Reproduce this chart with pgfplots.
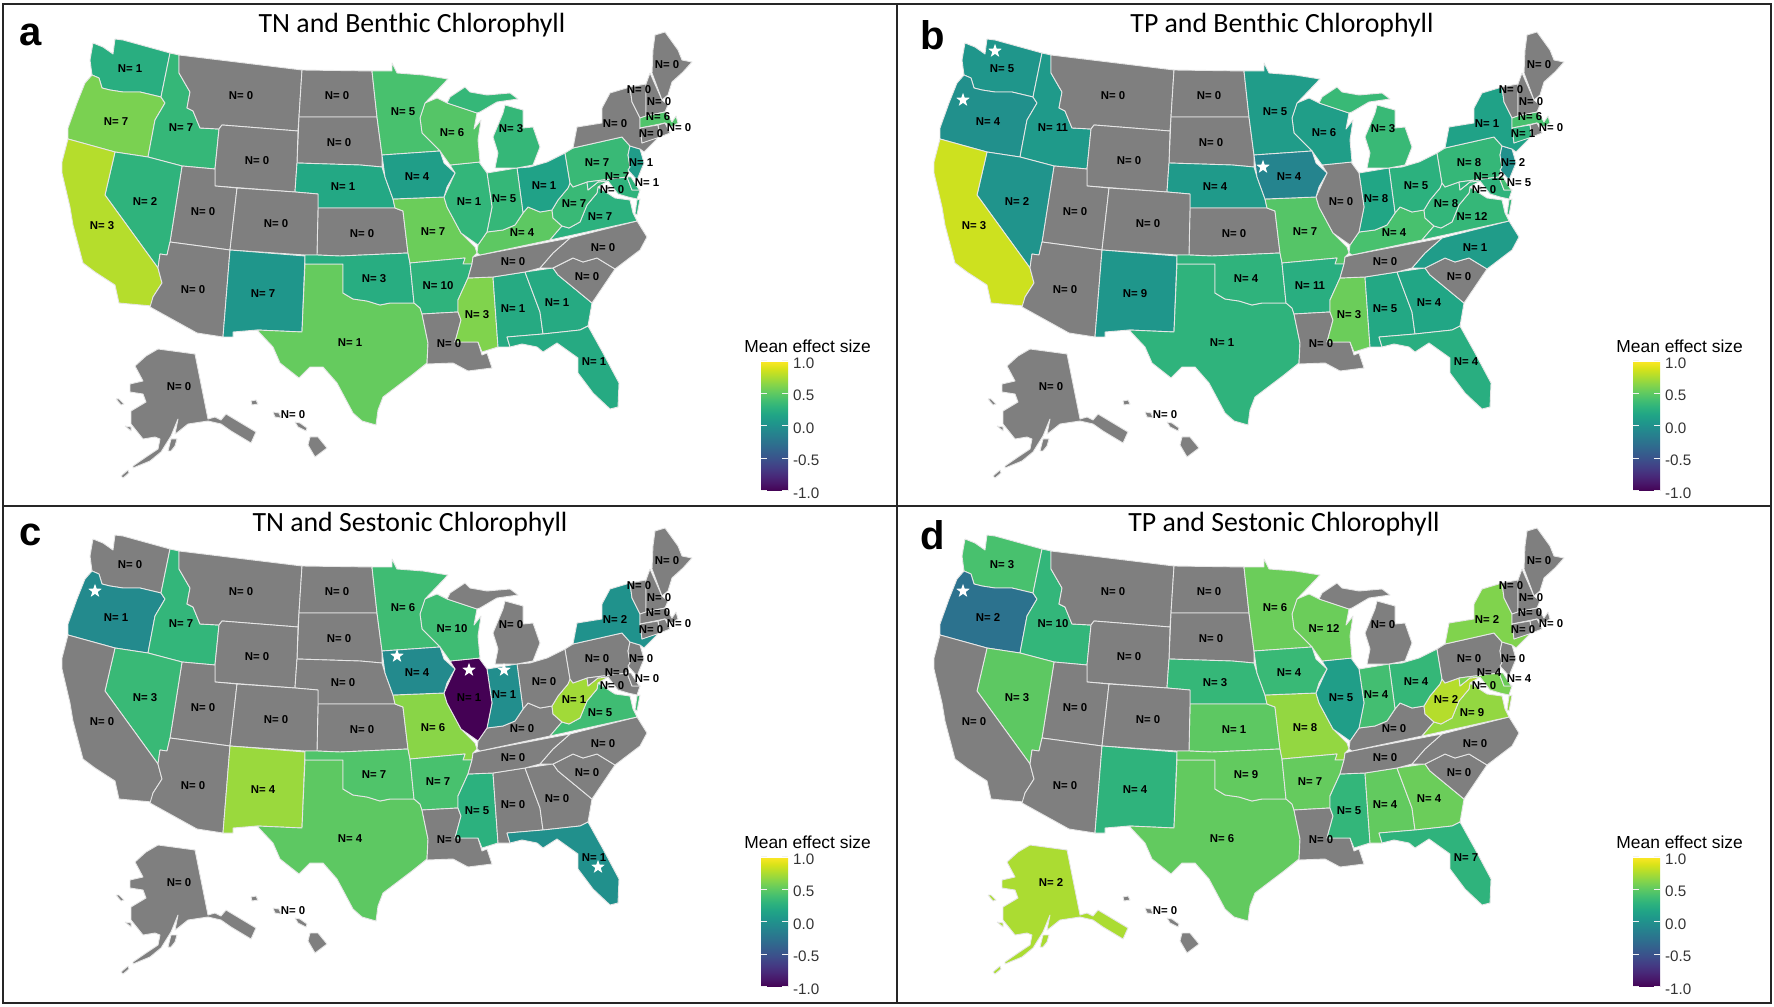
\documentclass[border=0pt]{standalone}
\usepackage{fontspec}
\setmainfont{Liberation Sans}
\newfontfamily\titlefont{Carlito}
\usepackage{pgfplots}
\pgfplotsset{compat=1.18}
\definecolor{bd}{HTML}{E6E6E6}
\definecolor{na}{HTML}{7F7F7F}

% state outlines, in reference pixels of panel a
\def\shpWA{(93,43)(103,47)(113,54)(115,39)(123,40)(170,53)(161,97)(140,92)(123,92)(110,90)(102,88)(99,78)(92,75)(90,60)}
\def\shpOR{(92,75)(99,78)(102,88)(110,90)(123,92)(140,92)(161,97)(165,103)(155,120)(148,157)(115,152)(68,139)(68,128)(77,103)(85,83)}
\def\shpID{(170,53)(179,55)(179,73)(190,92)(187,108)(193,111)(200,128)(219,129)(215,169)(182,166)(148,157)(155,120)(165,103)(161,97)}
\def\shpMT{(179,55)(302,70)(299,117)(298,131)(222,125)(219,129)(200,128)(193,111)(187,108)(190,92)(179,73)}
\def\shpND{(302,70)(372,71)(377,117)(299,117)}
\def\shpSD{(299,117)(377,117)(382,155)(382,167)(360,165)(297,163)}
\def\shpWY{(222,125)(298,131)(297,163)(295,192)(215,186)(215,169)(219,129)}
\def\shpNE{(297,163)(360,165)(382,167)(385,177)(393,199)(395,208)(318,208)(318,194)(295,192)}
\def\shpKS{(318,208)(395,208)(403,211)(408,253)(340,256)(317,255)}
\def\shpUT{(182,166)(215,169)(215,186)(237,188)(230,250)(170,242)}
\def\shpNV{(115,152)(148,157)(182,166)(170,242)(167,255)(160,254)(158,268)(105,195)}
\def\shpCA{(68,139)(115,152)(105,195)(158,268)(162,283)(153,297)(152,306)(119,303)(115,285)(95,272)(83,263)(73,225)(70,207)(62,173)(62,162)}
\def\shpAZ{(170,242)(230,250)(223,337)(197,333)(150,307)(153,297)(162,283)(158,268)(160,254)(167,255)}
\def\shpCO{(237,188)(295,192)(318,194)(318,208)(317,255)(305,255)(230,250)}
\def\shpNM{(230,250)(305,256)(302,332)(257,330)(233,332)(233,337)(223,337)}
\def\shpTX{(305,264)(343,264)(343,293)(353,299)(367,301)(380,305)(390,303)(403,303)(414,303)(420,308)(422,314)(428,343)(427,363)(412,375)(383,397)(378,410)(376,425)(362,421)(353,413)(337,383)(323,367)(310,367)(299,378)(280,363)(273,347)(257,330)(302,332)}
\def\shpOK{(305,255)(317,255)(340,256)(408,253)(410,263)(414,303)(403,303)(390,303)(380,305)(367,301)(353,299)(343,293)(343,264)(305,264)}
\def\shpMO{(393,199)(444,197)(447,207)(461,233)(468,240)(475,247)(477,253)(473,257)(472,264)(463,264)(465,258)(410,263)(408,253)(403,211)(395,208)}
\def\shpAR{(410,263)(465,258)(463,264)(472,264)(468,278)(458,300)(458,312)(422,314)(420,308)(414,303)}
\def\shpLA{(422,314)(458,312)(461,320)(455,342)(478,342)(482,355)(487,353)(492,368)(468,371)(453,363)(427,364)(428,343)}
\def\shpMS{(468,278)(493,277)(498,347)(482,352)(478,342)(455,342)(461,320)(458,312)(458,300)}
\def\shpAL{(493,277)(525,272)(540,312)(543,334)(507,337)(510,347)(503,347)(498,347)}
\def\shpGA{(525,272)(553,268)(558,275)(592,303)(588,326)(580,330)(543,334)(540,312)}
\def\shpFL{(507,337)(543,334)(580,330)(588,326)(603,353)(619,383)(618,407)(610,409)(593,393)(578,373)(578,358)(557,343)(543,352)(537,347)(522,344)(510,347)}
\def\shpSC{(553,268)(573,258)(583,262)(597,258)(615,269)(592,303)(558,275)}
\def\shpNC{(570,238)(637,221)(647,237)(640,250)(615,269)(597,258)(583,262)(573,258)(553,268)(540,268)(553,253)}
\def\shpTN{(472,264)(473,257)(480,255)(570,238)(553,253)(540,268)(525,272)(493,277)(468,278)}
\def\shpKY{(477,253)(478,245)(487,232)(503,230)(515,225)(523,213)(528,207)(540,212)(552,210)(553,218)(562,226)(550,240)(480,255)}
\def\shpVA{(550,240)(562,226)(569,228)(580,222)(587,205)(597,193)(598,187)(615,198)(630,200)(633,213)(637,221)}
\def\shpVAx{(637,200)(640,199)(637,215)(635,214)}
\def\shpWV{(553,218)(552,210)(558,200)(568,188)(570,183)(573,187)(587,182)(588,190)(598,182)(608,181)(598,187)(597,193)(587,205)(580,222)(569,228)(562,226)}
\def\shpOH{(517,168)(530,167)(547,162)(565,153)(570,183)(568,188)(558,200)(552,210)(540,212)(528,207)(523,213)}
\def\shpIN{(487,173)(517,168)(523,213)(515,225)(503,230)(487,232)(492,207)}
\def\shpIL{(450,165)(479,162)(487,173)(492,207)(487,232)(478,245)(461,233)(447,207)(444,197)(455,173)}
\def\shpWI{(425,103)(437,98)(447,103)(477,113)(474,129)(481,120)(478,140)(480,162)(450,165)(440,151)(422,133)(420,118)}
\def\shpMN{(372,71)(392,71)(392,63)(397,73)(423,75)(448,79)(425,103)(420,118)(422,133)(440,151)(382,155)(377,117)}
\def\shpIA{(382,155)(440,151)(444,163)(455,173)(447,187)(444,197)(393,199)(385,177)}
\def\shpMI{(495,168)(498,153)(493,137)(503,113)(505,105)(523,110)(523,128)(533,127)(540,147)(533,165)(517,168)}
\def\shpMIx{(447,103)(450,97)(465,87)(470,92)(487,95)(510,93)(518,99)(497,102)(480,112)(477,113)}
\def\shpPA{(573,148)(622,137)(630,146)(628,155)(630,167)(627,177)(587,182)(573,187)(570,183)(565,153)}
\def\shpNJ{(630,146)(640,149)(644,163)(637,180)(628,170)(630,167)(628,155)}
\def\shpNY{(573,148)(577,127)(602,123)(602,108)(610,93)(630,87)(632,102)(640,118)(640,128)(642,143)(655,136)(657,139)(644,152)(640,149)(630,146)(622,137)}
\def\shpVT{(630,87)(646,84)(646,116)(640,118)(632,102)}
\def\shpNH{(646,84)(650,73)(662,100)(668,105)(665,112)(646,116)}
\def\shpME{(652,73)(653,50)(655,35)(665,32)(678,50)(682,60)(692,62)(683,72)(672,82)(668,95)(662,100)}
\def\shpMA{(640,118)(646,116)(665,112)(668,115)(672,122)(676,116)(678,123)(672,127)(665,123)(640,128)}
\def\shpCT{(640,128)(658,125)(660,137)(642,143)}
\def\shpRI{(658,125)(665,123)(670,133)(660,137)}
\def\shpMD{(587,182)(627,177)(632,190)(640,190)(637,199)(628,197)(618,194)(608,181)(598,182)(588,190)}
\def\shpDE{(627,177)(631,177)(638,188)(640,190)(632,190)}
\def\shpDC{(606,186)(609,186)(609,189)(606,189)}
\def\shpAK{(158,349)(195,354)(208,419)(215,417)(221,420)(226,414)(256,432)(251,443)(231,431)(221,424)(208,421)(188,424)(178,432)(175,434)(178,419)(171,436)(161,452)(150,461)(133,468)(133,466)(146,457)(158,449)(160,439)(155,437)(143,439)(131,424)(131,411)(146,402)(143,394)(130,392)(130,384)(143,381)(135,366)(146,356)}
\def\shpAKx{(168,451)(171,439)(177,439)(175,446)(171,451)}
\def\shpAKy{(116,399)(119,399)(124,404)(121,405)}
\def\shpAKz{(125,426)(131,427)(131,431)}
\def\shpAKu{(121,476)(128,470)(129,473)(123,478)}
\def\shpHI{(310,437)(318,437)(327,448)(315,457)(308,445)}
\def\shpHIx{(295,422)(300,423)(307,428)(306,431)(298,427)}
\def\shpHIy{(273,412)(279,413)(281,418)(275,417)}
\def\shpHIz{(251,401)(256,400)(258,404)(252,405)}

% label positions
\def\lblWA{130,69}\def\lblOR{116,122}\def\lblID{181,128}\def\lblMT{241,96}\def\lblND{337,96}
\def\lblSD{339,143}\def\lblWY{257,161}\def\lblNE{343,187}\def\lblNV{145,202}\def\lblCA{102,226}
\def\lblUT{203,212}\def\lblCO{276,224}\def\lblKS{362,234}\def\lblAZ{193,290}\def\lblNM{263,294}
\def\lblOK{374,279}\def\lblTX{350,343}\def\lblAR{438,286}\def\lblLA{449,344}\def\lblMS{477,315}
\def\lblAL{513,309}\def\lblGA{557,303}\def\lblSC{587,277}\def\lblFL{594,362}\def\lblNC{603,248}
\def\lblTN{513,262}\def\lblKY{522,233}\def\lblMO{433,232}\def\lblIL{469,202}\def\lblIN{504,199}
\def\lblOH{544,186}\def\lblMI{511,129}\def\lblWI{452,133}\def\lblMN{403,112}\def\lblIA{417,177}
\def\lblWV{574,204}\def\lblVA{600,217}\def\lblPA{597,163}\def\lblNJ{641,163}\def\lblMD{617,177}
\def\lblDC{612,190}\def\lblDE{647,183}\def\lblNY{615,124}\def\lblVT{639,90}\def\lblNH{659,102}
\def\lblME{667,65}\def\lblMA{658,117}\def\lblRI{679,128}\def\lblCT{651,134}\def\lblAK{179,387}
\def\lblHI{293,415}

\def\grayarg{g}
\def\firstpt(#1)#2\relax{(#1)}
\newcommand{\shp}[2]{%
  \def\argv{#2}%
  \ifx\argv\grayarg
    \edef\opts{fill=na}%
  \else
    \pgfmathsetmacro\cmv{(#2+1)*500}%
    \edef\opts{color of colormap=\cmv,fill=.}%
  \fi
  \edef\plotcmd{\noexpand\addplot[forget plot,mark=none,\opts,draw=bd,line width=0.45pt,line join=round] coordinates {\csname shp#1\endcsname
    \expandafter\expandafter\expandafter\firstpt\csname shp#1\endcsname\relax};}%
  \plotcmd\relax}
\newcommand{\st}[3]{%
  \shp{#1}{#2}\relax
  \ifcsname shp#1x\endcsname\shp{#1x}{#2}\fi
  \ifcsname shp#1y\endcsname\shp{#1y}{#2}\fi
  \ifcsname shp#1z\endcsname\shp{#1z}{#2}\fi
  \ifcsname shp#1u\endcsname\shp{#1u}{#2}\fi
  \xdef\labellist{\unexpanded\expandafter{\labellist}\noexpand\node[font=\noexpand\fontsize{5.7}{6}\noexpand\selectfont\noexpand\bfseries,inner sep=0pt] at (axis cs:\csname lbl#1\endcsname) {N= #3};}\relax}

\pgfdeclareplotmark{wstar}{%
  \pgfpathmoveto{\pgfpointpolar{90}{\pgfplotmarksize}}%
  \pgfpathlineto{\pgfpointpolar{126}{0.4\pgfplotmarksize}}%
  \pgfpathlineto{\pgfpointpolar{162}{\pgfplotmarksize}}%
  \pgfpathlineto{\pgfpointpolar{198}{0.4\pgfplotmarksize}}%
  \pgfpathlineto{\pgfpointpolar{234}{\pgfplotmarksize}}%
  \pgfpathlineto{\pgfpointpolar{270}{0.4\pgfplotmarksize}}%
  \pgfpathlineto{\pgfpointpolar{306}{\pgfplotmarksize}}%
  \pgfpathlineto{\pgfpointpolar{342}{0.4\pgfplotmarksize}}%
  \pgfpathlineto{\pgfpointpolar{18}{\pgfplotmarksize}}%
  \pgfpathlineto{\pgfpointpolar{54}{0.4\pgfplotmarksize}}%
  \pgfpathclose\pgfusepathqfill}

\pgfplotsset{panel/.style={
  x=0.5pt,y=0.5pt,y dir=reverse,
  xmin=0,xmax=890,ymin=0,ymax=500,
  axis lines=none,clip=false,anchor=north west,
  colormap/viridis,point meta min=-1,point meta max=1,
  colorbar,
  colorbar style={
    at={(parent axis.north west)},anchor=north west,
    xshift=372pt,yshift=-180.5pt,
    width=13.5pt,height=65pt,
    axis line style={draw=none},
    ytick={-1,-0.5,0,0.5,1},
    yticklabels={-1.0,-0.5,0.0,0.5,1.0},
    y tick label style={font=\fontsize{7.6}{9}\selectfont,text=black!80,xshift=-1pt,yshift=-1pt},
    tick align=inside,ytick pos=both,yticklabel pos=right,
    major tick length=3pt,
    tick style={white!90!gray,line width=0.5pt},
  },
}}
\newcommand{\legendtitle}{\node[anchor=west,inner sep=0pt,font=\fontsize{8.7}{10}\selectfont] at (axis cs:744,346) {Mean effect size};}

\begin{document}
\begin{tikzpicture}
\useasboundingbox (0,0) rectangle (887pt,503.5pt);

% a
\begin{axis}[panel,at={(0pt,503.5pt)}]
\gdef\labellist{}
\st{WA}{.25}{1}\st{OR}{.6}{7}\st{ID}{.33}{7}\st{MT}{g}{0}\st{ND}{g}{0}\st{SD}{g}{0}\st{WY}{g}{0}\st{NE}{.2}{1}\st{KS}{g}{0}
\st{UT}{g}{0}\st{NV}{.3}{2}\st{CA}{.78}{3}\st{AZ}{g}{0}\st{CO}{g}{0}\st{NM}{.05}{7}\st{TX}{.53}{1}\st{OK}{.24}{3}
\st{MO}{.55}{7}\st{AR}{.3}{10}\st{LA}{g}{0}\st{MS}{.62}{3}\st{AL}{.22}{1}\st{GA}{.22}{1}\st{FL}{.22}{1}\st{SC}{g}{0}\st{NC}{g}{0}\st{TN}{g}{0}
\st{KY}{.5}{4}\st{VA}{.28}{7}\st{WV}{.35}{7}\st{OH}{.15}{1}\st{IN}{.33}{5}\st{IL}{.32}{1}\st{WI}{.47}{6}\st{MN}{.42}{5}\st{IA}{.12}{4}\st{MI}{.33}{3}
\st{PA}{.35}{7}\st{NJ}{.1}{1}\st{NY}{g}{0}\st{VT}{g}{0}\st{NH}{g}{0}\st{ME}{g}{0}\st{MA}{.45}{6}\st{CT}{g}{0}\st{RI}{g}{0}\st{MD}{.3}{7}\st{DE}{.3}{1}\st{DC}{g}{0}\st{AK}{g}{0}\st{HI}{g}{0}
\labellist
\legendtitle
\end{axis}

% b
\begin{axis}[panel,at={(436pt,503.5pt)}]
\gdef\labellist{}
\st{WA}{.05}{5}\st{OR}{.0}{4}\st{ID}{.08}{11}\st{MT}{g}{0}\st{ND}{g}{0}\st{SD}{g}{0}\st{WY}{g}{0}\st{NE}{.08}{4}\st{KS}{g}{0}
\st{UT}{g}{0}\st{NV}{.03}{2}\st{CA}{.85}{3}\st{AZ}{g}{0}\st{CO}{g}{0}\st{NM}{.05}{9}\st{TX}{.3}{1}\st{OK}{.3}{4}
\st{MO}{.47}{7}\st{AR}{.25}{11}\st{LA}{g}{0}\st{MS}{.55}{3}\st{AL}{.2}{5}\st{GA}{.18}{4}\st{FL}{.25}{4}\st{SC}{g}{0}\st{NC}{.1}{1}\st{TN}{g}{0}
\st{KY}{.42}{4}\st{VA}{.33}{12}\st{WV}{.32}{8}\st{OH}{.28}{5}\st{IN}{.18}{8}\st{IL}{g}{0}\st{WI}{.12}{6}\st{MN}{.1}{5}\st{IA}{-.1}{4}\st{MI}{.35}{3}
\st{PA}{.33}{8}\st{NJ}{.0}{2}\st{NY}{.15}{1}\st{VT}{g}{0}\st{NH}{g}{0}\st{ME}{g}{0}\st{MA}{.42}{6}\st{CT}{.3}{1}\st{RI}{g}{0}\st{MD}{.3}{12}\st{DE}{.4}{5}\st{DC}{g}{0}\st{AK}{g}{0}\st{HI}{g}{0}
\labellist
\addplot[only marks,mark=wstar,mark size=3.6pt,white] coordinates {(123,51)(91,100)(391,167)};
\legendtitle
\end{axis}

% c
\begin{axis}[panel,at={(0pt,255.5pt)}]
\gdef\labellist{}
\st{WA}{g}{0}\st{OR}{-.05}{1}\st{ID}{.32}{7}\st{MT}{g}{0}\st{ND}{g}{0}\st{SD}{g}{0}\st{WY}{g}{0}\st{NE}{g}{0}\st{KS}{g}{0}
\st{UT}{g}{0}\st{NV}{.35}{3}\st{CA}{g}{0}\st{AZ}{g}{0}\st{CO}{g}{0}\st{NM}{.7}{4}\st{TX}{.5}{4}\st{OK}{.45}{7}
\st{MO}{.65}{6}\st{AR}{.42}{7}\st{LA}{g}{0}\st{MS}{.28}{5}\st{AL}{g}{0}\st{GA}{g}{0}\st{FL}{.0}{1}\st{SC}{g}{0}\st{NC}{g}{0}\st{TN}{g}{0}
\st{KY}{g}{0}\st{VA}{.38}{5}\st{WV}{.72}{1}\st{OH}{g}{0}\st{IN}{-.02}{1}\st{IL}{-1}{1}\st{WI}{.38}{10}\st{MN}{.38}{6}\st{IA}{-.05}{4}\st{MI}{g}{0}
\st{PA}{g}{0}\st{NJ}{g}{0}\st{NY}{.02}{2}\st{VT}{g}{0}\st{NH}{g}{0}\st{ME}{g}{0}\st{MA}{g}{0}\st{CT}{g}{0}\st{RI}{g}{0}\st{MD}{g}{0}\st{DE}{g}{0}\st{DC}{g}{0}\st{AK}{g}{0}\st{HI}{g}{0}
\labellist
\addplot[only marks,mark=wstar,mark size=3.6pt,white] coordinates {(95,95)(397,160)(469,174)(504,174)(598,371)};
\legendtitle
\end{axis}

% d
\begin{axis}[panel,at={(436pt,255.5pt)}]
\gdef\labellist{}
\st{WA}{.42}{3}\st{OR}{-.25}{2}\st{ID}{.32}{10}\st{MT}{g}{0}\st{ND}{g}{0}\st{SD}{g}{0}\st{WY}{g}{0}\st{NE}{.33}{3}\st{KS}{.5}{1}
\st{UT}{g}{0}\st{NV}{.5}{3}\st{CA}{g}{0}\st{AZ}{g}{0}\st{CO}{g}{0}\st{NM}{.3}{4}\st{TX}{.52}{6}\st{OK}{.52}{9}
\st{MO}{.68}{8}\st{AR}{.53}{7}\st{LA}{g}{0}\st{MS}{.32}{5}\st{AL}{.52}{4}\st{GA}{.55}{4}\st{FL}{.3}{7}\st{SC}{g}{0}\st{NC}{g}{0}\st{TN}{g}{0}
\st{KY}{g}{0}\st{VA}{.68}{9}\st{WV}{.78}{2}\st{OH}{.33}{4}\st{IN}{.4}{4}\st{IL}{.12}{5}\st{WI}{.55}{12}\st{MN}{.55}{6}\st{IA}{.35}{4}\st{MI}{g}{0}
\st{PA}{g}{0}\st{NJ}{g}{0}\st{NY}{.62}{2}\st{VT}{g}{0}\st{NH}{g}{0}\st{ME}{g}{0}\st{MA}{g}{0}\st{CT}{g}{0}\st{RI}{g}{0}\st{MD}{.6}{4}\st{DE}{.55}{4}\st{DC}{g}{0}\st{AK}{.75}{2}\st{HI}{g}{0}
\labellist
\addplot[only marks,mark=wstar,mark size=3.6pt,white] coordinates {(91,95)};
\legendtitle
\end{axis}

% frames, panel letters and titles in reference pixels
\begin{scope}[x=0.5pt,y=-0.5pt,yshift=503.5pt]
\draw[black!85,line width=0.7pt] (3,4) rectangle (1771,1003);
\draw[black!85,line width=0.7pt] (897,4) -- (897,1003);
\draw[black!85,line width=0.7pt] (3,506) -- (1771,506);
\foreach \px/\py/\t in {31/35/a,933/35/b,31/535/c,933/535/d}
  \node[font=\fontsize{20}{22}\selectfont\bfseries] at (\px,\py) {\t};
\foreach \px/\py/\t in {412/25/TN and Benthic Chlorophyll,1282/25/TP and Benthic Chlorophyll,
  410/524/TN and Sestonic Chlorophyll,1284/524/TP and Sestonic Chlorophyll}
  \node[font=\titlefont\fontsize{13.9}{16}\selectfont] at (\px,\py) {\t};
\end{scope}
\end{tikzpicture}
\end{document}
